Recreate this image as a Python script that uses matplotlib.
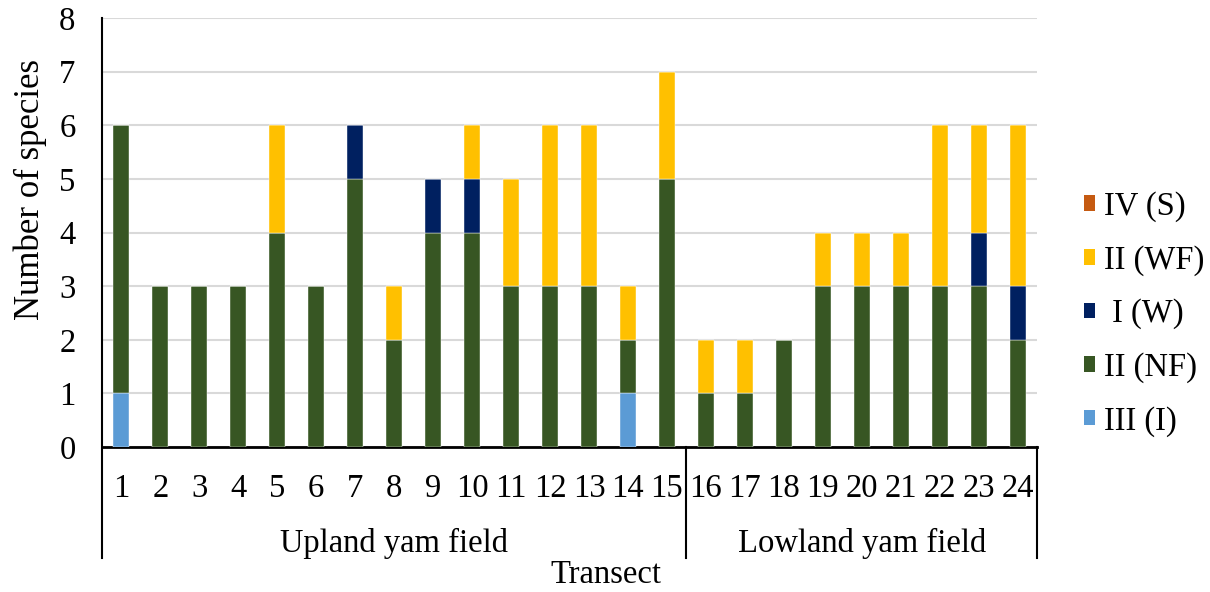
import matplotlib
matplotlib.use("Agg")
import matplotlib.pyplot as plt
import matplotlib.transforms as mtransforms
from matplotlib.lines import Line2D
from matplotlib.patches import Patch
import numpy as np

plt.rcParams['font.family'] = ['Liberation Serif', 'DejaVu Serif']

transects = [str(i) for i in range(1, 25)]
iii_i  = [1, 0, 0, 0, 0, 0, 0, 0, 0, 0, 0, 0, 0, 1, 0, 0, 0, 0, 0, 0, 0, 0, 0, 0]
ii_nf  = [5, 3, 3, 3, 4, 3, 5, 2, 4, 4, 3, 3, 3, 1, 5, 1, 1, 2, 3, 3, 3, 3, 3, 2]
i_w    = [0, 0, 0, 0, 0, 0, 1, 0, 1, 1, 0, 0, 0, 0, 0, 0, 0, 0, 0, 0, 0, 0, 1, 1]
ii_wf  = [0, 0, 0, 0, 2, 0, 0, 1, 0, 1, 2, 3, 3, 1, 2, 1, 1, 0, 1, 1, 1, 3, 2, 3]
iv_s   = [0] * 24
groups = ["Upland yam field", "Lowland yam field"]
group_sizes = [15, 9]

series = [("III (I)", iii_i, "#5B9BD5"),
          ("II (NF)", ii_nf, "#375623"),
          (" I (W)", i_w, "#002060"),
          ("II (WF)", ii_wf, "#FFC000"),
          ("IV (S)", iv_s, "#C55A11")]

W, H = 1210, 592
fig = plt.figure(figsize=(W / 100, H / 100), dpi=100)
ax = fig.add_axes([102 / W, 1 - 447 / H, (1037 - 102) / W, (447 - 18) / H])

x = np.arange(len(transects))
bottom = np.zeros(len(transects))
handles = []
for name, vals, col in series:
    v = np.array(vals, dtype=float)
    ax.bar(x, v, width=0.41, bottom=bottom, color=col, edgecolor='white', linewidth=0.3, zorder=3)
    bottom += v
    handles.append(Patch(facecolor=col, edgecolor='none', label=name))

ax.set_xlim(-0.5, len(transects) - 0.5)
ax.set_ylim(0, 8)
ax.set_yticks(range(0, 9))
ax.yaxis.grid(True, color='#D9D9D9', linewidth=1.5, zorder=0)
ax.set_axisbelow(True)
ax.set_xticks(x)
ax.set_xticklabels(transects)
ax.tick_params(axis='both', length=0, labelsize=23.5)
ax.tick_params(axis='y', pad=19)
ax.tick_params(axis='x', pad=19)
for s in ['top', 'right', 'left']:
    ax.spines[s].set_visible(False)
ax.spines['bottom'].set_linewidth(2)
ax.spines['bottom'].set_color('black')

# left spine extended plus group separators
ybot = -(558 - 447) / (447 - 18)
ax.add_line(Line2D([0, 0], [ybot, 1], transform=ax.transAxes, color='black', linewidth=1.5, clip_on=False))
trans = mtransforms.blended_transform_factory(ax.transData, ax.transAxes)
pos = -0.5
for g, n in zip(groups, group_sizes):
    start = pos
    pos += n
    ax.add_line(Line2D([pos, pos], [ybot, 0], transform=trans, color='black', linewidth=1.5, clip_on=False))
    ax.text((start + pos) / 2, -(543 - 447) / (447 - 18), g, transform=trans,
            ha='center', va='center', fontsize=23.5)

fig.text(30 / W, 1 - 189 / H, "Number of species", rotation=90, ha='center', va='center', fontsize=25)
fig.text(606 / W, 1 - 575 / H, "Transect", ha='center', va='center', fontsize=23.5)

leg = fig.legend(handles=handles[::-1], loc='center left', bbox_to_anchor=(1084 / W, 1 - 314 / H),
                 frameon=False, fontsize=23.5, handlelength=0.35, handleheight=0.35,
                 handletextpad=0.25, labelspacing=0.7, borderpad=0, borderaxespad=0)

fig.savefig("out.png", dpi=100)
